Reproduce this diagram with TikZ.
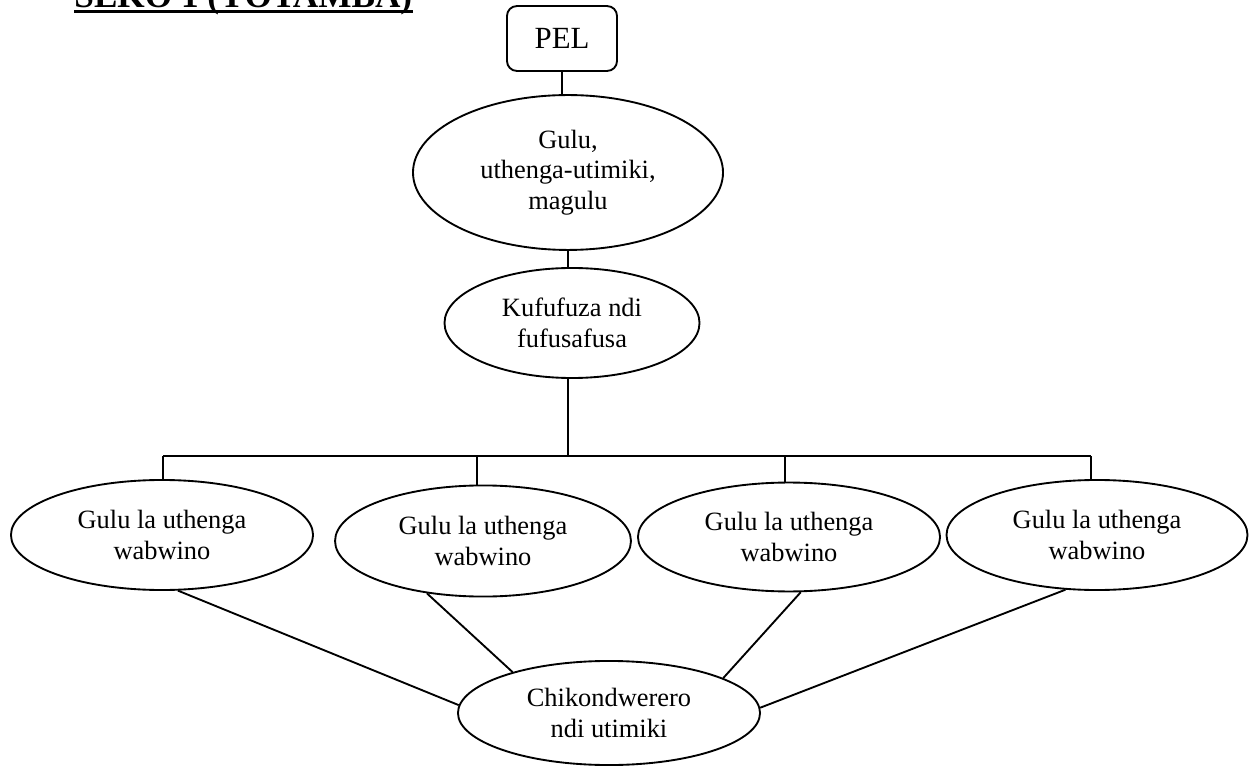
\documentclass[tikz,border=0pt]{standalone}
\usepackage{fontspec}
\setmainfont{Liberation Serif}
\usetikzlibrary{shapes.geometric}
\begin{document}
\begin{tikzpicture}[x=0.4545pt,y=-0.4545pt,
  conn/.style={line width=0.85pt},
  bubble/.style={draw, ellipse, line width=0.85pt, inner sep=0pt, align=center,
    font=\fontsize{12}{13.8}\selectfont},
  topbox/.style={draw, rounded corners=4.5pt, line width=0.85pt, inner sep=0pt,
    minimum width=50pt, minimum height=29.5pt, font=\fontsize{14}{16}\selectfont}]
\useasboundingbox (0,0) rectangle (1254,769);
\clip (0,0) rectangle (1254,769);

% heading (runs off the top edge)
\node[anchor=base west, inner sep=0pt, font=\fontsize{16}{18}\selectfont\bfseries] (title) at (74,7.5) {SEKO 1 (YOTAMBA)};
\draw[line width=1.36pt] ([yshift=-1.6pt]title.base west) -- ([yshift=-1.6pt]title.base east);

% nodes
\node[topbox] (pel) at (562,38.5) {PEL};
\node[bubble, minimum width=140.9pt, minimum height=70.4pt] (e1) at (568,172.5) {Gulu,\\uthenga-utimiki,\\magulu};
\node[bubble, minimum width=115.9pt, minimum height=50pt] (e2) at (572,323) {Kufufuza ndi\\fufusafusa};

\node[bubble, minimum width=137.3pt, minimum height=50pt] (gA) at (162,535) {Gulu la uthenga\\wabwino};
\node[bubble, minimum width=134.5pt, minimum height=50.5pt] (gB) at (483,541) {Gulu la uthenga\\wabwino};
\node[bubble, minimum width=137.3pt, minimum height=49.5pt] (gC) at (789,537) {Gulu la uthenga\\wabwino};
\node[bubble, minimum width=136.8pt, minimum height=50pt] (gD) at (1097,535) {Gulu la uthenga\\wabwino};

\node[bubble, minimum width=137.3pt, minimum height=47.3pt] (ch) at (609,713) {Chikondwerero\\ndi utimiki};

% bus bar and drop points
\coordinate (dA) at (163,456);
\coordinate (dB) at (477,456);
\coordinate (dC) at (785,456);
\coordinate (dD) at (1091,456);
\coordinate (dM) at (568,456);

% vertical chain
\draw[conn] (pel.south) -- (pel.south |- e1.north);
\draw[conn] (e1.south) -- (e1.south |- e2.north);
\draw[conn] (e1.south |- e2.south) -- (dM);

% branching
\draw[conn] (dA) -- (dD);
\draw[conn] (dA) -- (dA |- gA.north);
\draw[conn] (dB) -- (dB |- gB.north);
\draw[conn] (dC) -- (dC |- gC.north);
\draw[conn] (dD) -- (dD |- gD.north);

% converging links
\draw[conn] (gA.-74.7) -- (ch.177.7);
\draw[conn] (gB.-137.2) -- (ch.157);
\draw[conn] (gC.-78.5) -- (ch.17.8);
\draw[conn] (gD.-120.4) -- (ch.2.3);
\end{tikzpicture}
\end{document}
